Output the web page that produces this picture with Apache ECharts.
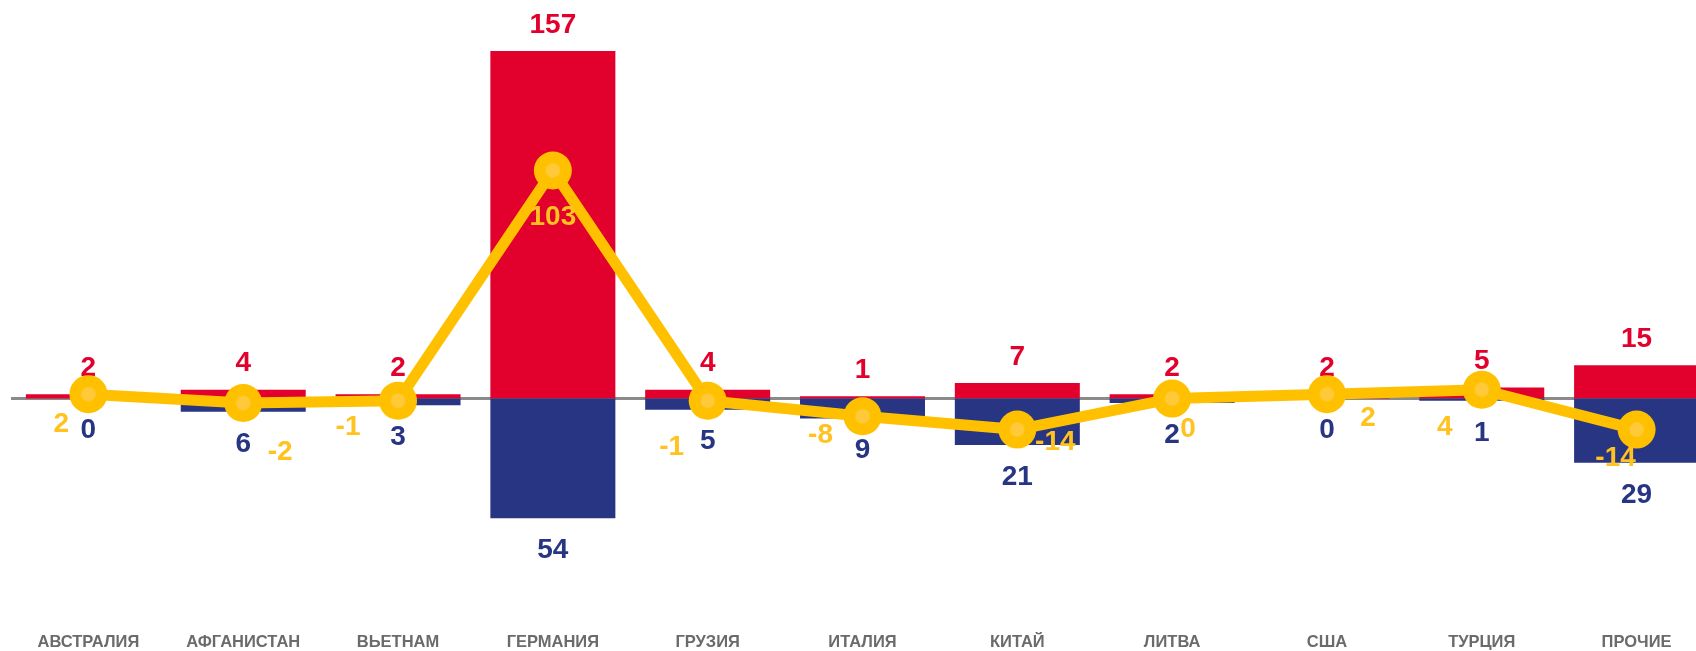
<!DOCTYPE html>
<html>
<head>
<meta charset="utf-8">
<script src="https://cdn.jsdelivr.net/npm/echarts@6/dist/echarts.min.js"></script>
<style>
html,body{margin:0;padding:0;background:#fff;}
#chart{width:1696px;height:651px;}
</style>
</head>
<body>
<div id="chart"></div>
<script>
const categories = ['АВСТРАЛИЯ','АФГАНИСТАН','ВЬЕТНАМ','ГЕРМАНИЯ','ГРУЗИЯ','ИТАЛИЯ','КИТАЙ','ЛИТВА','США','ТУРЦИЯ','ПРОЧИЕ'];
const redValues = [2, 4, 2, 157, 4, 1, 7, 2, 2, 5, 15];
const blueValues = [0, 6, 3, 54, 5, 9, 21, 2, 0, 1, 29];
const lineValues = [2, -2, -1, 103, -1, -8, -14, 0, 2, 4, -14];
const lineLabelOffsets = [[-27,30],[37,49],[-50,26],[0,47],[-36,46],[-42,19],[38,13],[16,31],[41,24],[-37,38],[-21,29]];

const RED = '#E2002C', BLUE = '#283583', YEL = '#FFC000', YEL_LABEL = '#FFC21F';
const numFont = 'Liberation Sans, Arial, sans-serif';

const chart = echarts.init(document.getElementById('chart'), null, {renderer: 'canvas'});
chart.setOption({
  animation: false,
  backgroundColor: '#ffffff',
  grid: {left: 11, width: 1703, top: 0, height: 620, containLabel: false, outerBoundsMode: 'none'},
  xAxis: {
    type: 'category',
    data: categories,
    axisLine: {show: false, onZero: false},
    axisTick: {show: false},
    axisLabel: {
      show: true, interval: 0, margin: 14,
      color: '#6b6b6b', fontSize: 16.5, fontWeight: 'bold', fontFamily: numFont
    }
  },
  yAxis: {
    type: 'value', min: -100, max: 180,
    show: false, splitLine: {show: false}
  },
  series: [
    {
      type: 'bar', name: 'red', data: redValues, barWidth: 125, barGap: '-100%',
      itemStyle: {color: RED},
      label: {show: true, position: 'top', distance: 12, color: RED, fontSize: 28, fontWeight: 'bold', fontFamily: numFont},
      markLine: {
        silent: true, symbol: 'none', label: {show: false},
        lineStyle: {color: '#8a8a8a', width: 3, type: 'solid'},
        data: [{yAxis: 0}], z: 1
      },
      z: 2
    },
    {
      type: 'bar', name: 'blue', data: blueValues.map(v => -v), barWidth: 125,
      itemStyle: {color: BLUE},
      label: {show: true, position: 'bottom', distance: 18, color: BLUE, fontSize: 28, fontWeight: 'bold', fontFamily: numFont,
        formatter: p => String(Math.abs(p.value))},
      z: 2
    },
    {
      type: 'line', name: 'line',
      data: lineValues.map((v, i) => ({
        value: v,
        label: {offset: lineLabelOffsets[i]}
      })),
      lineStyle: {color: YEL, width: 11},
      symbol: 'circle', symbolSize: 38,
      itemStyle: {
        color: {
          type: 'radial', x: 0.5, y: 0.5, r: 0.5,
          colorStops: [
            {offset: 0, color: '#FFC93A'},
            {offset: 0.33, color: '#FFC93A'},
            {offset: 0.43, color: YEL},
            {offset: 1, color: YEL}
          ]
        }
      },
      label: {show: true, position: 'inside', color: YEL_LABEL, fontSize: 28, fontWeight: 'bold', fontFamily: numFont},
      z: 5
    }
  ]
});
</script>
</body>
</html>
